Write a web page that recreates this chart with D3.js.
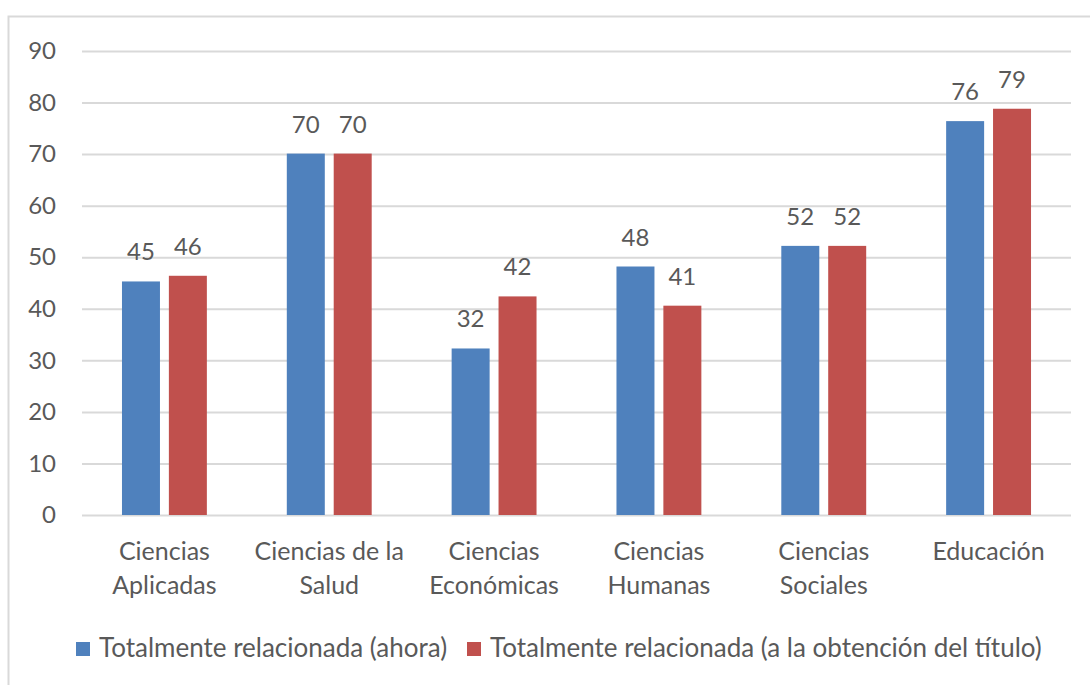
<!DOCTYPE html>
<html>
<head>
<meta charset="utf-8">
<script src="https://cdn.jsdelivr.net/npm/d3@7"></script>
<style>
  html, body { margin: 0; padding: 0; background: #fff; }
  svg { display: block; }
  text { font-family: Lato, "Open Sans", sans-serif; fill: #595959; }
</style>
</head>
<body>
<script>
const categories = [
  ["Ciencias", "Aplicadas"],
  ["Ciencias de la", "Salud"],
  ["Ciencias", "Económicas"],
  ["Ciencias", "Humanas"],
  ["Ciencias", "Sociales"],
  ["Educación"]
];
const seriesNames = [
  "Totalmente relacionada (ahora)",
  "Totalmente relacionada (a la obtención del título)"
];
const ahora = [45.3, 70.1, 32.3, 48.2, 52.2, 76.4];
const obtencion = [46.4, 70.1, 42.4, 40.6, 52.2, 78.8];
const yTicks = [0, 10, 20, 30, 40, 50, 60, 70, 80, 90];
const colors = ["#4F81BD", "#C0504D"];

const W = 1090, H = 685;
const svg = d3.select("body").append("svg").attr("width", W).attr("height", H);

// outer frame
svg.append("rect").attr("x", 8.5).attr("y", 16.5).attr("width", 1100).attr("height", 700)
  .attr("fill", "none").attr("stroke", "#D9D9D9").attr("stroke-width", 2);

const catKeys = categories.map(c => c.join(" "));
const x0 = d3.scaleBand().domain(catKeys).range([82, 1071]).paddingInner(0.485).paddingOuter(0.2425);
const x1 = d3.scaleBand().domain([0, 1]).range([0, x0.bandwidth()]).paddingInner(0.19);
const y = d3.scaleLinear().domain([0, 90]).range([515, 51]);

// gridlines
const yAxis = d3.axisLeft(y).tickValues(yTicks).tickSize(-(1071 - 82)).tickPadding(26);
const gy = svg.append("g").attr("transform", "translate(82,0)").call(yAxis);
gy.select(".domain").remove();
gy.selectAll(".tick line").attr("stroke", "#D9D9D9").attr("stroke-width", 2);
gy.selectAll(".tick text").attr("font-size", 24).style("font-family", "Lato, sans-serif").attr("fill", "#595959");

// bars
const data = categories.map((c, i) => ({ key: catKeys[i], vals: [ahora[i], obtencion[i]] }));
const groups = svg.append("g").selectAll("g").data(data).join("g")
  .attr("transform", d => `translate(${x0(d.key)},0)`);
groups.selectAll("rect").data(d => d.vals.map((v, s) => ({ v, s }))).join("rect")
  .attr("x", d => x1(d.s)).attr("width", x1.bandwidth())
  .attr("y", d => y(d.v)).attr("height", d => y(0) - y(d.v))
  .attr("fill", d => colors[d.s]);
groups.selectAll("text.val").data(d => d.vals.map((v, s) => ({ v, s }))).join("text")
  .attr("class", "val")
  .attr("x", d => x1(d.s) + x1.bandwidth() / 2)
  .attr("y", d => y(d.v) - 21)
  .attr("text-anchor", "middle").attr("font-size", 24)
  .text(d => d3.format(".0f")(d.v));

// category labels
const xAxis = d3.axisBottom(x0).tickSize(0).tickFormat(() => "");
const gx = svg.append("g").attr("transform", "translate(0,515)").call(xAxis);
gx.select(".domain").remove();
gx.selectAll(".tick").each(function (d, i) {
  const t = d3.select(this).append("text").attr("text-anchor", "middle").attr("font-size", 25)
    .style("fill", "#595959");
  categories[i].forEach((line, j) => {
    t.append("tspan").attr("x", 0).attr("y", 45 + j * 34).text(line);
  });
});

// legend
const legend = svg.append("g");
const legendItems = [
  { sx: 76, tx: 99 },
  { sx: 467, tx: 490 }
];
seriesNames.forEach((name, i) => {
  legend.append("rect").attr("x", legendItems[i].sx).attr("y", 642).attr("width", 14).attr("height", 14)
    .attr("fill", colors[i]);
  legend.append("text").attr("x", legendItems[i].tx).attr("y", 657).attr("font-size", 26).text(name);
});
</script>
</body>
</html>
